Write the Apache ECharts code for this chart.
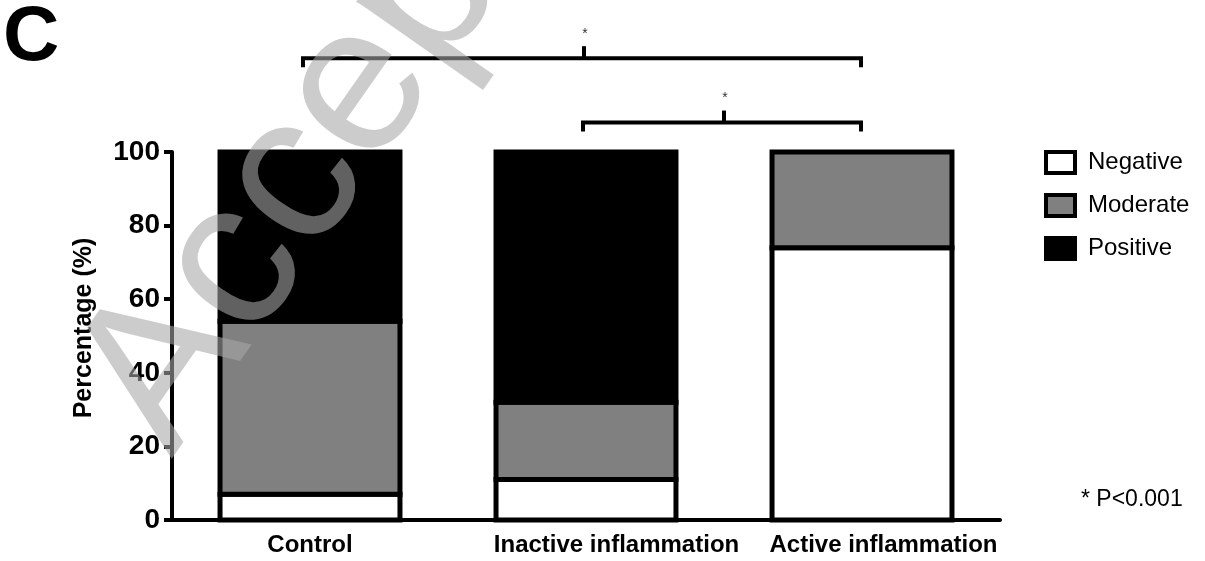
<!DOCTYPE html>
<html><head><meta charset="utf-8">
<script src="https://cdn.jsdelivr.net/npm/echarts@6/dist/echarts.min.js"></script>
<style>html,body{margin:0;padding:0;background:#fff}#c{width:1205px;height:561px}</style>
</head><body><div id="c"></div>
<script>
// ---- data ----
const categories = ['Control', 'Inactive inflammation', 'Active inflammation'];
const seriesNames = ['Negative', 'Moderate', 'Positive'];
const negative = [7, 11, 74];
const moderate = [47, 21, 26];
const positive = [46, 68, 0];
const yMin = 0, yMax = 100, yStep = 20;
const brackets = [
  { from: 'Control', to: 'Active inflammation', level: 125.5, mark: '*' },
  { from: 'Inactive inflammation', to: 'Active inflammation', level: 108, mark: '*' }
];
const pNote = '* P<0.001';
const panelLetter = 'C';
const watermark = 'Accepted';

// ---- layout / style ----
const FONT = "'Liberation Sans', Arial, sans-serif";
const fills = ['#ffffff', '#808080', '#000000'];
const labelShift = [0, 61, 43];   // left padding that nudges each x label right, as in the figure
const BAR_FRAC = 0.652;

const values = [negative, moderate, positive];
// stacked [categoryIndex, bottom, top] per series
const stackedData = values.map((arr, s) => arr.map((v, i) => {
  let base = 0;
  for (let k = 0; k < s; k++) base += values[k][i];
  return [i, base, base + v];
}));

const chart = echarts.init(document.getElementById('c'), null, { renderer: 'canvas' });

const option = {
  animation: false,
  backgroundColor: '#fff',
  grid: { left: 172, right: 205, top: 152, bottom: 41, containLabel: false },
  legend: {
    orient: 'vertical', left: 1039, top: 145,
    itemWidth: 29, itemHeight: 21, itemGap: 18,
    icon: 'rect',
    itemStyle: { borderColor: '#000', borderWidth: 4 },
    textStyle: { fontFamily: FONT, fontSize: 24, color: '#000', padding: [0, 0, 0, 8] },
    data: seriesNames
  },
  xAxis: {
    type: 'category',
    data: categories.map((c, i) => ({ value: c, textStyle: { padding: [0, 0, 0, labelShift[i]] } })),
    axisLine: { lineStyle: { color: '#000', width: 4 } },
    axisTick: { alignWithLabel: true, length: 8, lineStyle: { color: '#000', width: 4 } },
    axisLabel: { interval: 0, fontFamily: FONT, fontSize: 24, fontWeight: 'bold', color: '#000', margin: 13 }
  },
  yAxis: {
    type: 'value', min: yMin, max: yMax, interval: yStep,
    name: 'Percentage (%)', nameLocation: 'middle', nameGap: 75,
    nameTextStyle: { fontFamily: FONT, fontSize: 25, fontWeight: 'bold', color: '#000', padding: [0, 0, 0, 16] },
    axisLine: { show: true, lineStyle: { color: '#000', width: 4 } },
    axisTick: { show: true, length: 8, lineStyle: { color: '#000', width: 4 } },
    axisLabel: { fontFamily: FONT, fontSize: 28, fontWeight: 'bold', color: '#000', margin: 12 },
    splitLine: { show: false }
  },
  series: seriesNames.map((n, s) => ({
    name: n, type: 'custom', data: stackedData[s],
    encode: { x: 0, y: [1, 2] },
    itemStyle: { color: fills[s], borderColor: '#000', borderWidth: 4 },
    z: 2 + s,
    renderItem: function (params, api) {
      const i = api.value(0), lo = api.value(1), hi = api.value(2);
      if (!(hi - lo > 0)) return null;
      const bw = api.size([1, 0])[0] * BAR_FRAC;
      const pTop = api.coord([i, hi]);
      const pBot = api.coord([i, lo]);
      return {
        type: 'rect',
        shape: { x: pTop[0] - bw / 2, y: pTop[1], width: bw, height: pBot[1] - pTop[1] },
        style: { fill: fills[s], stroke: '#000', lineWidth: 5 }
      };
    }
  }))
};
chart.setOption(option);

// ---- annotations positioned via the axes ----
const g = [];
brackets.forEach((b, k) => {
  const x1 = chart.convertToPixel({ xAxisIndex: 0 }, b.from) - (k === 0 ? 7 : 3);
  const x2 = chart.convertToPixel({ xAxisIndex: 0 }, b.to) - 1;
  const y = chart.convertToPixel({ yAxisIndex: 0 }, b.level);
  const xm = (x1 + x2) / 2 + 2;
  g.push({
    type: 'polyline', z: 50,
    shape: { points: [[x1, y + 9], [x1, y], [x2, y], [x2, y + 9]] },
    style: { stroke: '#000', lineWidth: 4, fill: null }
  });
  g.push({ type: 'line', z: 50, shape: { x1: xm, y1: y, x2: xm, y2: y - 12 }, style: { stroke: '#000', lineWidth: 4 } });
  g.push({ type: 'text', z: 50, x: xm + 1, y: y - 24,
    style: { text: b.mark, fontFamily: FONT, fontSize: 14, fill: '#333', textAlign: 'center', textVerticalAlign: 'middle' } });
});
g.push({ type: 'text', z: 50, x: 3, y: 38,
  style: { text: panelLetter, fontFamily: FONT, fontSize: 78, fontWeight: 'bold', fill: '#000', textAlign: 'left', textVerticalAlign: 'middle' } });
g.push({ type: 'text', z: 50, x: 1081, y: 500,
  style: { text: pNote, fontFamily: FONT, fontSize: 23, fill: '#000', textAlign: 'left', textVerticalAlign: 'middle' } });
g.push({ type: 'text', z: 100, x: 210, y: 486, rotation: 55 * Math.PI / 180,
  style: { text: watermark, fontFamily: FONT, fontSize: 210, fill: 'rgba(167,167,167,0.58)', textAlign: 'left', textVerticalAlign: 'bottom' } });
chart.setOption({ graphic: g });
</script></body></html>
